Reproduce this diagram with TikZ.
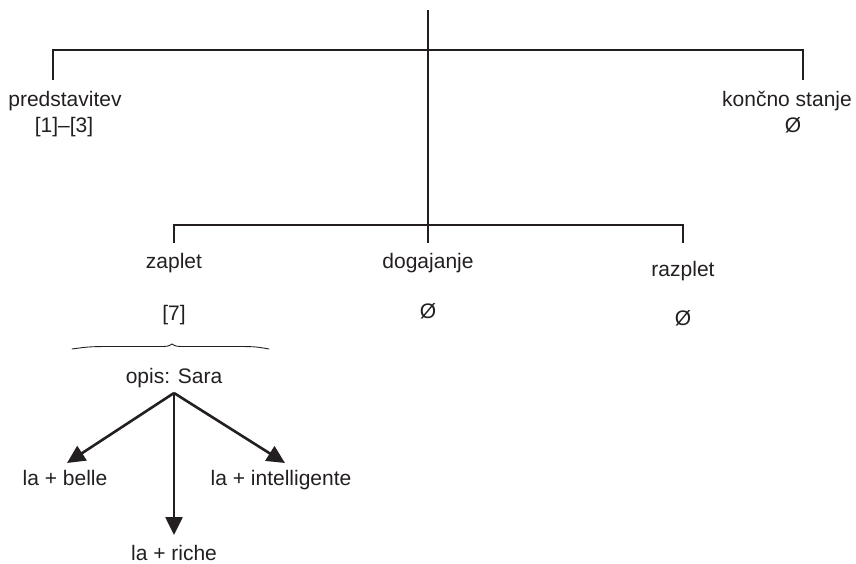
\documentclass[tikz,border=0pt]{standalone}
\usepackage{fontspec}
\setmainfont{Liberation Sans}
\usetikzlibrary{arrows.meta}
\definecolor{ink}{HTML}{231F20}
\tikzset{txt/.style = {inner sep=0pt, anchor=base, text=ink, font=\fontsize{21}{25}\selectfont},
         bar/.style = {draw=ink, line width=2.6pt, line cap=butt},
         arr/.style = {draw=ink, fill=ink, line width=2.6pt, -{Triangle[length=18pt,width=17pt]}},
         brc/.style = {draw=ink, line width=0.9pt, line cap=round}}

\begin{document}
\begin{tikzpicture}[x=1pt,y=-1pt]
        \useasboundingbox (0,0) rectangle (856,564);

        % first level
        \node[txt] (pred)  at (65,107)  {predstavitev};
        \node[txt] (predR) at (64,133)  {[1]--[3]};
        \node[txt] (konc)  at (787,107) {končno stanje};
        \node[txt] (koncR) at (793,133) {Ø};

        \coordinate (top)  at (428,10);
        \coordinate (topL) at (53,50);
        \coordinate (topR) at (803,50);
        \coordinate (predT) at (53,80);
        \coordinate (koncT) at (803,80);

        \draw[bar](top)--(428,243);
        \draw[bar](predT)--(topL)--(topR)--(koncT);

        % second level
        \node[txt] (zap)  at (174,268) {zaplet};
        \node[txt] (zapR) at (174,320) {[7]};
        \node[txt] (dog)  at (428,268) {dogajanje};
        \node[txt] (dogR) at (428,318) {Ø};
        \node[txt] (raz)  at (683,276) {razplet};
        \node[txt] (razR) at (683,325) {Ø};

        \coordinate (midL) at (174,225);
        \coordinate (midR) at (683,225);
        \coordinate (zapT) at (174,243);
        \coordinate (razT) at (683,243);

        \draw[bar](zapT)--(midL)--(midR)--(razT);

        % description
        \draw[brc](72,349) .. controls (90,346.5) .. (120,346.5) -- (158,346.5)
                  .. controls (168,346.5) .. (172,344)
                  .. controls (176,346.5) .. (186,346.5) -- (230,346.5)
                  .. controls (255,346.5) .. (269,349);
        \node[txt] (opis) at (174,383) {opis: Sara};

        \node[txt] (belle) at (65,485)  {la + belle};
        \node[txt] (intel) at (281,485) {la + intelligente};
        \node[txt] (riche) at (174,560) {la + riche};

        \coordinate (src)    at (174,393);
        \coordinate (belleT) at (67,463);
        \coordinate (intelT) at (285,463);
        \coordinate (richeT) at (174,535);

        \draw[arr](src)--(belleT);
        \draw[arr](src)--(intelT);
        \draw[arr](src)--(richeT);
    \end{tikzpicture}
\end{document}
